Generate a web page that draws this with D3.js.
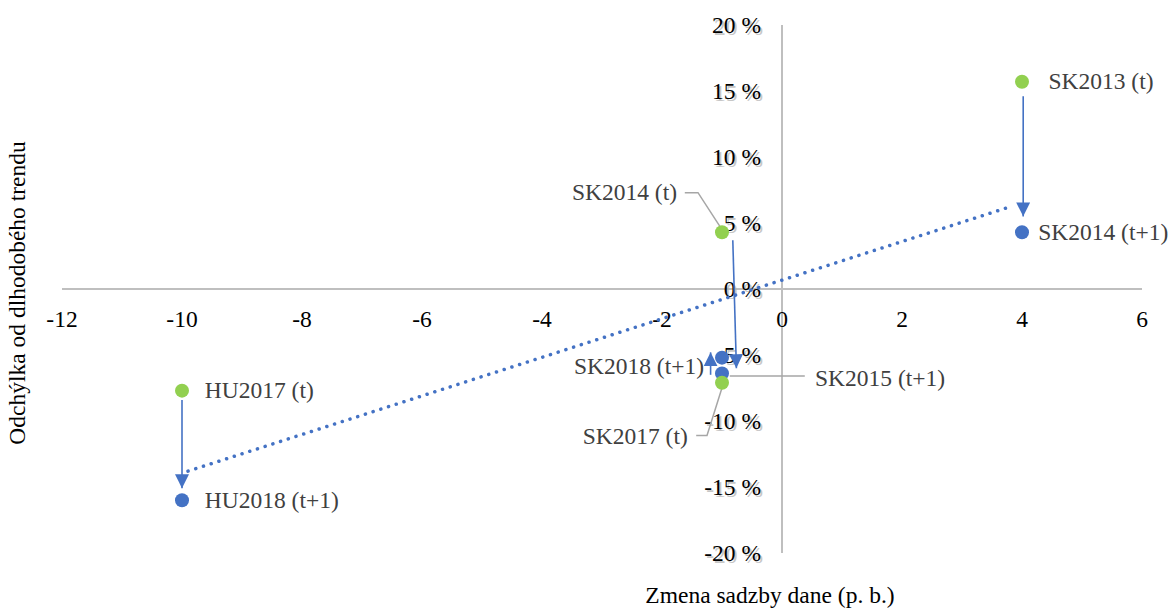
<!DOCTYPE html>
<html>
<head>
<meta charset="utf-8">
<script src="https://cdnjs.cloudflare.com/ajax/libs/d3/7.8.5/d3.min.js"></script>
<style>
  body { margin: 0; background: #fff; }
  svg text { font-family: "Liberation Serif", "Times New Roman", "DejaVu Serif", serif; }
</style>
</head>
<body>
<div id="chart"></div>
<script>
// points: [label, x (p. b.), y (%), kind]
const points = [
    ["SK2013 (t)", 4, 15.7, "t"],
    ["SK2014 (t+1)", 4, 4.3, "t1"],
    ["SK2014 (t)", -1, 4.3, "t"],
    ["SK2018 (t+1)", -1, -5.2, "t1"],
    ["SK2015 (t+1)", -1, -6.4, "t1"],
    ["SK2017 (t)", -1, -7.1, "t"],
    ["HU2017 (t)", -10, -7.7, "t"],
    ["HU2018 (t+1)", -10, -16.0, "t1"]
];

// arrows: [x1, y1, x2, y2]
const arrows = [
    [4.02, 14.6, 4.02, 5.5],
    [-10, -8.4, -10, -15.1],
    [-0.82, 3.7, -0.76, -6.0],
    [-1.19, -6.5, -1.19, -4.8]
];

// trend line end points
const trend = [[-9.9, -13.8], [3.85, 6.3]];

// label positions: [label, x, y, anchor, leader points...]
const labels = [
    ["SK2013 (t)", 4.44, 15.7, "start", []],
    ["SK2014 (t+1)", 4.27, 4.3, "start", []],
    ["SK2014 (t)", -1.75, 7.3, "end", [[-1.62, 7.3], [-1.4, 7.3], [-1, 4.5]]],
    ["SK2018 (t+1)", -1.3, -5.9, "end", []],
    ["SK2015 (t+1)", 0.55, -6.8, "start", [[-0.87, -6.6], [0.38, -6.6]]],
    ["SK2017 (t)", -1.57, -11.2, "end", [[-1.43, -11.1], [-1.25, -11.1], [-0.98, -7.2]]],
    ["HU2017 (t)", -9.62, -7.7, "start", []],
    ["HU2018 (t+1)", -9.62, -16.0, "start", []]
];

const xTicks = [-12, -10, -8, -6, -4, -2, 0, 2, 4, 6];
const yTicks = [20, 15, 10, 5, 0, -5, -10, -15, -20];

const W = 1172, H = 609;
const green = "#92d050", blue = "#4472c4", grid = "#bfbfbf";
const serif = "'Liberation Serif', 'Times New Roman', 'DejaVu Serif', serif";
const fs = 23.5;

const svg = d3.select("#chart").append("svg")
    .attr("width", W).attr("height", H)
    .attr("font-family", serif);

const x = d3.scaleLinear().domain([-12, 6]).range([62, 1142]);
const y = d3.scaleLinear().domain([-20, 20]).range([553, 25]);

svg.append("defs").append("marker")
    .attr("id", "head")
    .attr("viewBox", "0 0 10 10")
    .attr("refX", 10).attr("refY", 5)
    .attr("markerWidth", 14).attr("markerHeight", 14)
    .attr("markerUnits", "userSpaceOnUse")
    .attr("orient", "auto")
    .append("path")
    .attr("d", "M0,0 L10,5 L0,10 Z")
    .attr("fill", blue);

// axes lines
svg.append("line")
    .attr("x1", x(-12)).attr("x2", x(6))
    .attr("y1", y(0)).attr("y2", y(0))
    .attr("stroke", grid).attr("stroke-width", 2);
svg.append("line")
    .attr("x1", x(0)).attr("x2", x(0))
    .attr("y1", y(20)).attr("y2", y(-20))
    .attr("stroke", grid).attr("stroke-width", 2);

// x tick labels
svg.selectAll(".xt")
    .data(xTicks)
    .enter().append("text")
    .attr("class", "xt")
    .attr("x", d => x(d))
    .attr("y", y(0) + 38)
    .attr("text-anchor", "middle")
    .attr("font-size", fs)
    .attr("fill", "#000")
    .text(d => d);

// y tick labels with a soft shadow
const yt = svg.selectAll(".yt")
    .data(yTicks)
    .enter().append("g")
    .attr("class", "yt")
    .attr("transform", d => `translate(${x(0) - 21}, ${y(d) + 8})`);
yt.append("text")
    .attr("x", 2).attr("y", 2)
    .attr("text-anchor", "end")
    .attr("font-size", fs)
    .attr("fill", "#b0b0b0")
    .attr("opacity", 0.7)
    .text(d => d + " %");
yt.append("text")
    .attr("text-anchor", "end")
    .attr("font-size", fs)
    .attr("fill", "#000")
    .text(d => d + " %");

// trend line
svg.append("path")
    .datum(trend)
    .attr("d", d3.line().x(d => x(d[0])).y(d => y(d[1])))
    .attr("fill", "none")
    .attr("stroke", blue)
    .attr("stroke-width", 3.5)
    .attr("stroke-linecap", "round")
    .attr("stroke-dasharray", "0.1 8");

// leader lines
svg.selectAll(".leader")
    .data(labels.filter(d => d[4].length))
    .enter().append("path")
    .attr("class", "leader")
    .attr("d", d => d3.line().x(p => x(p[0])).y(p => y(p[1]))(d[4]))
    .attr("fill", "none")
    .attr("stroke", "#a6a6a6")
    .attr("stroke-width", 1.5);

// points
svg.selectAll(".pt")
    .data(points)
    .enter().append("circle")
    .attr("class", "pt")
    .attr("cx", d => x(d[1]))
    .attr("cy", d => y(d[2]))
    .attr("r", 7)
    .attr("fill", d => d[3] === "t" ? green : blue);

// arrows
svg.selectAll(".arrow")
    .data(arrows)
    .enter().append("line")
    .attr("class", "arrow")
    .attr("x1", d => x(d[0])).attr("y1", d => y(d[1]))
    .attr("x2", d => x(d[2])).attr("y2", d => y(d[3]))
    .attr("stroke", blue)
    .attr("stroke-width", 1.6)
    .attr("marker-end", "url(#head)");

// point labels
svg.selectAll(".lbl")
    .data(labels)
    .enter().append("text")
    .attr("class", "lbl")
    .attr("x", d => x(d[1]))
    .attr("y", d => y(d[2]) + 7.5)
    .attr("text-anchor", d => d[3])
    .attr("font-size", fs)
    .attr("fill", "#404040")
    .text(d => d[0]);

// axis titles
svg.append("text")
    .attr("x", 770).attr("y", 603)
    .attr("text-anchor", "middle")
    .attr("font-size", fs)
    .attr("fill", "#000")
    .text("Zmena sadzby dane (p. b.)");

svg.append("text")
    .attr("transform", `translate(25, 293) rotate(-90)`)
    .attr("text-anchor", "middle")
    .attr("font-size", fs)
    .attr("fill", "#000")
    .text("Odchýlka od dlhodobého trendu");
</script>
</body>
</html>
